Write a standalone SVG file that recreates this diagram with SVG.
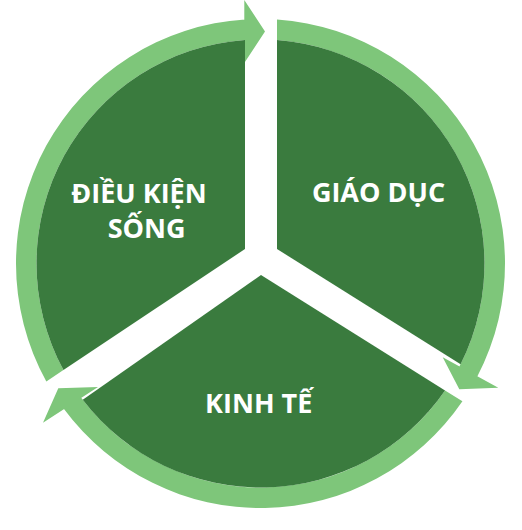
<svg xmlns="http://www.w3.org/2000/svg" width="522" height="530" viewBox="0 0 522 530">
<style>
.sector{fill:#3a7b3e}
.arrow{fill:#7ec67a}
.label{fill:#ffffff;font-family:"Open Sans","Liberation Sans",sans-serif;font-weight:700;font-size:27px;text-anchor:middle}
</style>
<rect width="522" height="530" fill="#ffffff"/>
<g id="connectors">
<path id="arrow-top" class="arrow" d="M46.33,381.44 A244.5,244.5 0 0 1 245,19.49 L245,40.04 A224,224 0 0 0 63.44,370.03 Z M244.3,0 L265,31.5 L244.3,63 Z"/>
<path id="arrow-right" class="arrow" d="M277,19.56 A244.5,244.5 0 0 1 477.43,376.29 L459.44,366.45 A224,224 0 0 0 277,40.11 Z M442.7,357.3 L498.3,387.7 L459.3,389.3 Z"/>
<path id="arrow-bottom" class="arrow" d="M462.42,401.36 A244.5,244.5 0 0 1 63.98,408.96 L81.24,397.82 A224,224 0 0 0 445.05,390.46 Z M98,387 L43,422.7 L58.3,388.3 Z"/>
</g>
<g id="node-dieu-kien-song">
<path class="sector" d="M245,249 L245,40.04 A224,224 0 0 0 63.44,370.03 Z"/>
<text class="label" x="139" y="202.5">ĐIỀU KIỆN</text>
<text class="label" x="146.7" y="238.3">SỐNG</text>
</g>
<g id="node-giao-duc">
<path class="sector" d="M277,249 L277,40.11 A224,224 0 0 1 460.6,364.18 Z"/>
<text class="label" x="378.5" y="202.3">GIÁO DỤC</text>
</g>
<g id="node-kinh-te">
<path class="sector" d="M261,275 L445.05,390.46 A224,224 0 0 1 82.74,399.81 Z"/>
<text class="label" x="258.7" y="412.7">KINH TẾ</text>
</g>
</svg>
